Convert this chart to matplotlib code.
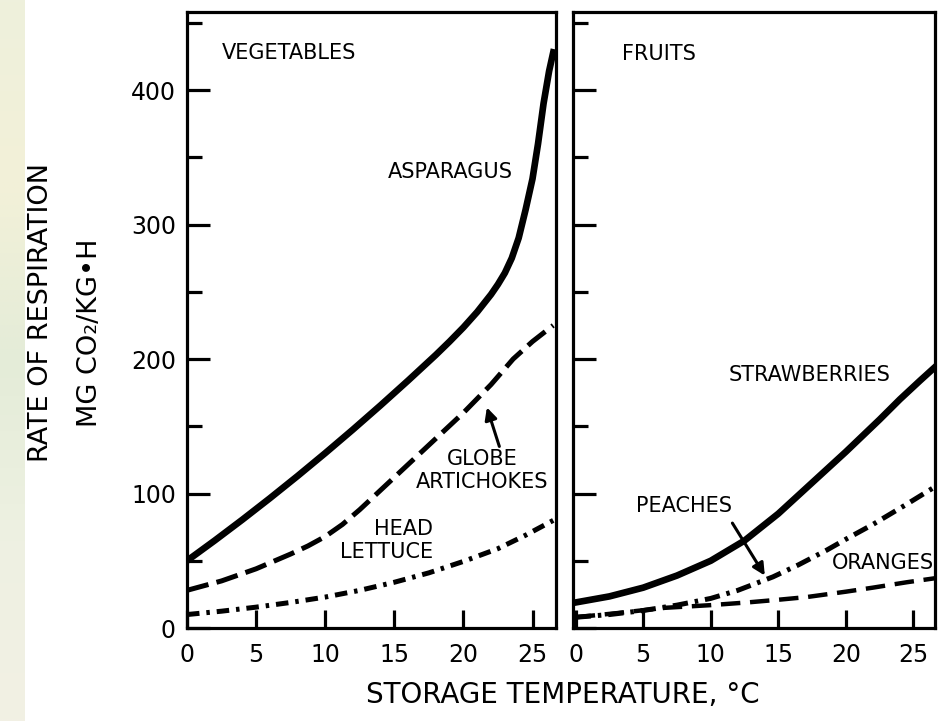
import matplotlib
matplotlib.use("Agg")
import matplotlib.pyplot as plt
import numpy as np
from matplotlib.ticker import MultipleLocator
from matplotlib.colors import LinearSegmentedColormap

plt.rcParams['font.family'] = ['DejaVu Sans']
plt.rcParams['lines.scale_dashes'] = False

# ---------------- data ----------------
# Vegetables panel
asparagus_t = [0, 2, 4, 6, 8, 10, 12, 14, 16, 18, 19, 20, 21, 22, 22.5, 23, 23.5, 24, 24.5, 25, 25.4, 25.8, 26.2, 26.5]
asparagus_r = [50, 65, 80.5, 96.5, 113, 130, 147.5, 165.5, 184, 203, 213, 223.5, 235, 248, 255.5, 264, 275, 290, 311, 334, 360, 390, 414, 428]

artichoke_t = [0, 2.5, 5, 7.5, 8.75, 10, 11.25, 12.5, 13.75, 15, 17.5, 20, 22, 23.6, 25, 26.5]
artichoke_r = [28, 35, 44, 55, 61, 68, 77, 88, 100, 112, 136, 160, 181, 200, 213, 225]

lettuce_t = [0, 2.5, 5, 7.5, 10, 12.5, 15, 17.5, 20, 22.5, 24.5, 26.5]
lettuce_r = [10, 12.5, 15.5, 19, 23, 28, 34, 41, 49.5, 59, 69, 80]

# Fruits panel
strawberry_t = [0, 2.5, 5, 7.5, 10, 12.5, 15, 17.5, 20, 22.5, 24, 25.5, 26.6]
strawberry_r = [19, 23.5, 30, 39, 50, 65, 85, 108, 131, 155, 170, 184, 194]

peach_t = [0, 2.5, 5, 7.5, 10, 12, 14.6, 16.5, 18.6, 20, 22, 24.5, 26.6]
peach_r = [8, 10, 13, 17, 22, 28, 38, 47, 58, 66, 77, 92, 105]

orange_t = [0, 3, 6.6, 10, 12.7, 15, 17.1, 20, 22, 24.5, 26.6]
orange_r = [8, 11, 15, 17, 19, 21, 23, 27, 30, 34, 37]

x_ticks = [0, 5, 10, 15, 20, 25]
y_ticks = [0, 100, 200, 300, 400]

# ---------------- figure ----------------
W, H = 938, 721
fig = plt.figure(figsize=(W / 100, H / 100), dpi=100)
fig.patch.set_facecolor('white')

# faint slide background strip on the left edge
bg = fig.add_axes([0, 0, 24 / W, 1], zorder=-5)
cmap = LinearSegmentedColormap.from_list('bgstrip', ['#eef0dc', '#f3f1d8', '#e4ecd8', '#eef1e2', '#f2f0e4'])
grad = np.linspace(0, 1, 200)[:, None] * np.ones((1, 10))
bg.imshow(grad, aspect='auto', cmap=cmap, extent=[0, 1, 0, 1])
bg.axis('off')

axL = fig.add_axes([187 / W, 93 / H, 369 / W, 616 / H])
axR = fig.add_axes([573 / W, 93 / H, 362 / W, 616 / H])

for ax in (axL, axR):
    ax.set_ylim(0, 458)
    ax.yaxis.set_minor_locator(MultipleLocator(50))
    ax.set_xticks(x_ticks)
    ax.set_yticks(y_ticks)
    for s in ax.spines.values():
        s.set_linewidth(2.3)
        s.set_color('black')
    ax.tick_params(axis='y', which='major', direction='in', length=16.5, width=2.3,
                   left=True, right=False, labelsize=17, pad=8)
    ax.tick_params(axis='y', which='minor', direction='in', length=11, width=2.3,
                   left=True, right=False)
    ax.tick_params(axis='x', which='major', direction='in', length=13, width=2.3,
                   top=False, bottom=True, labelsize=17, pad=11)

axL.set_xlim(0, 26.7)
axR.set_xlim(-0.2, 26.6)
axR.tick_params(axis='y', labelleft=False)

# ---- vegetables ----
axL.plot(asparagus_t, asparagus_r, color='black', lw=4.8, solid_joinstyle='round')
axL.plot(artichoke_t, artichoke_r, color='black', lw=3.6, dashes=(16, 6))
axL.plot(lettuce_t, lettuce_r, color='black', lw=3.6, dashes=(9, 5, 2.5, 5))

txt = dict(fontsize=15, color='black', va='center')
axL.text(2.5, 427.5, 'VEGETABLES', ha='left', **txt)
axL.text(14.5, 339, 'ASPARAGUS', ha='left', **txt)
axL.text(21.35, 117, 'GLOBE\nARTICHOKES', ha='center', multialignment='center', **txt)
axL.text(17.8, 65, 'HEAD\nLETTUCE', ha='right', multialignment='right', **txt)
axL.annotate('', xy=(21.7, 164), xytext=(22.6, 135),
             arrowprops=dict(arrowstyle='-|>', color='black', lw=2.2, mutation_scale=18,
                             shrinkA=0, shrinkB=0))

# ---- fruits ----
axR.plot(strawberry_t, strawberry_r, color='black', lw=4.8, solid_joinstyle='round')
axR.plot(peach_t, peach_r, color='black', lw=3.6, dashes=(11, 5, 2.5, 5))
axR.plot(orange_t, orange_r, color='black', lw=3.2, dashes=(14, 7))

axR.text(3.4, 427, 'FRUITS', ha='left', **txt)
axR.text(11.3, 188, 'STRAWBERRIES', ha='left', **txt)
axR.text(4.5, 91, 'PEACHES', ha='left', **txt)
axR.text(19.0, 48, 'ORANGES', ha='left', **txt)
axR.annotate('', xy=(14.0, 39), xytext=(11.6, 78),
             arrowprops=dict(arrowstyle='-|>', color='black', lw=2.2, mutation_scale=18,
                             shrinkA=0, shrinkB=0))

# ---- axis titles ----
fig.text(563 / W, 1 - 695 / H, 'STORAGE TEMPERATURE, °C', ha='center', va='center',
         fontsize=20, color='black')
fig.text(41 / W, 1 - 312 / H, 'RATE OF RESPIRATION', rotation=90, ha='center', va='center',
         fontsize=19.5, color='black')
fig.text(90 / W, 1 - 333 / H, 'MG CO₂/KG•H', rotation=90, ha='center', va='center',
         fontsize=19.5, color='black')

fig.savefig('out.png', dpi=100, facecolor='white')
